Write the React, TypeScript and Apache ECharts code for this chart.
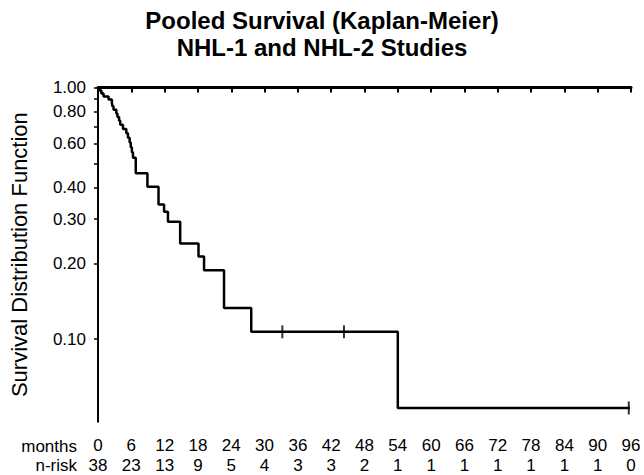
import React, { useEffect, useRef } from "react";
import * as echarts from "echarts";

const TITLE_TEXT = "Pooled Survival (Kaplan-Meier)\nNHL-1 and NHL-2 Studies";
const Y_TITLE = "Survival Distribution Function";
const ROW_LABELS = ["months", "n-risk"];

// Kaplan-Meier step points: month of event, survival after the event
const eventMonths = [
  0, 0.3, 0.6, 1.0, 1.9, 2.5, 2.6, 2.8, 3.3, 3.5, 3.8, 4.0, 4.5, 5.1, 5.4, 5.7,
  5.9, 6.1, 6.3, 6.8, 8.9, 10.9, 11.9, 12.6, 14.8, 18.1, 19.1, 22.7, 27.6, 54.0, 95.8,
];
const survival = [
  1.0, 0.974, 0.947, 0.921, 0.895, 0.868, 0.842, 0.816, 0.789, 0.763, 0.737, 0.711,
  0.684, 0.658, 0.632, 0.605, 0.579, 0.553, 0.526, 0.456, 0.403, 0.343, 0.321, 0.293,
  0.24, 0.213, 0.188, 0.133, 0.107, 0.0533, 0.0533,
];

// censored observations
const censorMonths = [33.2, 44.3, 95.6];
const censorSurvival = [0.107, 0.107, 0.0533];

// x axis
const monthTicks = [0, 6, 12, 18, 24, 30, 36, 42, 48, 54, 60, 66, 72, 78, 84, 90, 96];
const nRisk = [38, 23, 13, 9, 5, 4, 3, 3, 2, 1, 1, 1, 1, 1, 1, 1, 0];

// y axis (log scale)
const yTickValues = [0.1, 0.2, 0.3, 0.4, 0.5, 0.6, 0.7, 0.8, 0.9, 1.0];
const yLabelValues = [0.1, 0.2, 0.3, 0.4, 0.6, 0.8, 1.0];
const Y_MIN = 0.047;
const Y_MAX = 1.0;

const FONT = '"Liberation Sans", Arial, Helvetica, sans-serif';

export default function App() {
  const ref = useRef<HTMLDivElement>(null);

  useEffect(() => {
    if (!ref.current) return;
    const chart = echarts.init(ref.current, null, { renderer: "svg" });
    const lg = (v: number) => Math.log10(v);

    const lineData = eventMonths.map((m, i) => [m, lg(survival[i])]);
    const censorData = censorMonths.map((m, i) => [m, lg(censorSurvival[i])]);

    const option: any = {
      animation: false,
      backgroundColor: "#fff",
      textStyle: { fontFamily: FONT, color: "#000" },
      title: {
        text: TITLE_TEXT,
        left: "center",
        top: 2,
        textStyle: {
          fontFamily: FONT,
          fontSize: 24,
          fontWeight: "bold",
          color: "#000",
          lineHeight: 27,
        },
      },
      grid: { left: 97, right: 13, top: 87.5, bottom: 53.3 },
      xAxis: [
        {
          type: "value",
          min: 0,
          max: 96,
          interval: 6,
          splitLine: { show: false },
          axisLine: { show: true, lineStyle: { color: "#000", width: 3 } },
          axisTick: { show: true, length: 5, lineStyle: { color: "#000", width: 2 } },
          axisLabel: {
            fontFamily: FONT,
            fontSize: 17,
            color: "#000",
            margin: 15,
            formatter: (v: number) => String(v),
          },
        },
        {
          type: "value",
          position: "bottom",
          offset: 20,
          min: 0,
          max: 96,
          interval: 6,
          splitLine: { show: false },
          axisLine: { show: false },
          axisTick: { show: false },
          axisLabel: {
            fontFamily: FONT,
            fontSize: 17,
            color: "#000",
            margin: 15,
            formatter: (v: number) => {
              const idx = monthTicks.indexOf(Math.round(v));
              return idx >= 0 ? String(nRisk[idx]) : "";
            },
          },
        },
      ],
      yAxis: {
        type: "value",
        min: lg(Y_MIN),
        max: lg(Y_MAX),
        name: Y_TITLE,
        nameLocation: "middle",
        nameRotate: 90,
        nameGap: 68,
        nameTextStyle: { fontFamily: FONT, fontSize: 22, color: "#000" },
        splitLine: { show: false },
        axisLine: { show: true, lineStyle: { color: "#000", width: 2 } },
        axisTick: {
          show: true,
          length: 4,
          lineStyle: { color: "#000", width: 1.5 },
          customValues: yTickValues.map(lg),
        },
        axisLabel: {
          fontFamily: FONT,
          fontSize: 17,
          color: "#000",
          margin: 12,
          customValues: yLabelValues.map(lg),
          formatter: (v: number) => Math.pow(10, v).toFixed(2),
        },
      },
      graphic: [
        {
          type: "text",
          x: 77,
          y: 446,
          style: {
            text: ROW_LABELS[0],
            fontFamily: FONT,
            fontSize: 17,
            fill: "#000",
            align: "right",
            verticalAlign: "middle",
          },
        },
        {
          type: "text",
          x: 77,
          y: 465,
          style: {
            text: ROW_LABELS[1],
            fontFamily: FONT,
            fontSize: 17,
            fill: "#000",
            align: "right",
            verticalAlign: "middle",
          },
        },
      ],
      series: [
        {
          type: "line",
          xAxisIndex: 0,
          step: "end",
          data: lineData,
          showSymbol: false,
          symbol: "none",
          lineStyle: { color: "#000", width: 2.5 },
          silent: true,
        },
        {
          type: "scatter",
          xAxisIndex: 0,
          data: censorData,
          symbol: "rect",
          symbolSize: [2, 13],
          itemStyle: { color: "#000" },
          silent: true,
        },
        {
          type: "scatter",
          xAxisIndex: 1,
          data: [],
          silent: true,
        },
      ],
    };

    chart.setOption(option);
    return () => chart.dispose();
  }, []);

  return (
    <div
      ref={ref}
      style={{ position: "fixed", left: 0, top: 0, width: 644, height: 475, background: "#fff" }}
    />
  );
}
